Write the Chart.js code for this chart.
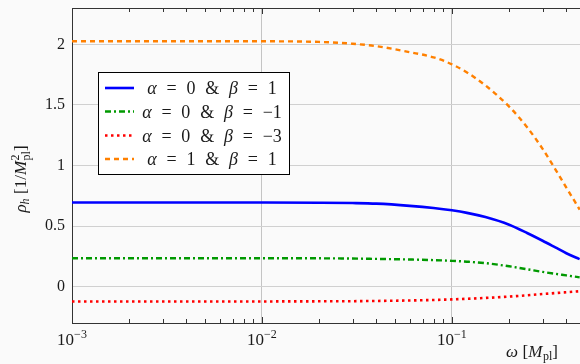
<!DOCTYPE html>
<html><head><meta charset="utf-8">
<script src="https://cdn.jsdelivr.net/npm/chart.js@4"></script>
<style>html,body{margin:0;padding:0;background:#fafafa;overflow:hidden}#wrap{width:580px;height:364px}</style>
</head><body><div id="wrap"><canvas id="c" width="580" height="364"></canvas></div>
<script>
// ---- data ----
const omega      = [0.001, 0.002, 0.005, 0.01, 0.02, 0.03, 0.04, 0.06, 0.08, 0.1, 0.12, 0.15, 0.2, 0.25, 0.3, 0.35, 0.4, 0.47];
const rhoA0B1    = [0.695, 0.695, 0.695, 0.695, 0.693, 0.69, 0.685, 0.667, 0.649, 0.63, 0.609, 0.574, 0.511, 0.441, 0.379, 0.324, 0.276, 0.227];
const rhoA0Bm1   = [0.235, 0.235, 0.235, 0.235, 0.234, 0.232, 0.229, 0.224, 0.219, 0.213, 0.206, 0.194, 0.168, 0.143, 0.122, 0.106, 0.093, 0.077];
const rhoA0Bm3   = [-0.122, -0.122, -0.122, -0.122, -0.121, -0.12, -0.118, -0.114, -0.11, -0.105, -0.10, -0.093, -0.082, -0.071, -0.061, -0.053, -0.046, -0.038];
const rhoA1B1    = [2.025, 2.025, 2.025, 2.025, 2.02, 2.005, 1.985, 1.935, 1.893, 1.835, 1.768, 1.661, 1.486, 1.311, 1.137, 0.969, 0.818, 0.636];
const xMajorTicks = [0.001, 0.01, 0.1];
const xTickExp    = ['\u22123', '\u22122', '\u22121'];
const yTicks      = [0, 0.5, 1, 1.5, 2];
const seriesNames = ['\u03b1 = 0 & \u03b2 = 1', '\u03b1 = 0 & \u03b2 = \u22121', '\u03b1 = 0 & \u03b2 = \u22123', '\u03b1 = 1 & \u03b2 = 1'];

const SERIF = '"Liberation Serif", "DejaVu Serif", serif';
const colors = ['#0000ff', '#009900', '#ff0000', '#ff8000'];
const dashes = [[], [6, 3, 2, 3], [2.5, 3.5], [5, 4]];
const widths = [2.6, 2.4, 2.6, 2.4];
const series = [rhoA0B1, rhoA0Bm1, rhoA0Bm3, rhoA1B1];

const datasets = series.map((s, i) => ({
  label: seriesNames[i],
  data: omega.map((w, k) => ({x: w, y: s[k]})),
  borderColor: colors[i], borderWidth: widths[i], borderDash: dashes[i],
  pointRadius: 0, fill: false, cubicInterpolationMode: 'monotone', borderCapStyle: 'butt'
}));

// draw a sequence of pieces: [text, italic, sizeScale, dy, extraAdvance]
function drawPieces(ctx, pieces, x, y, size, align){
  let total = 0;
  const ws = pieces.map(p => {
    ctx.font = (p[1] ? 'italic ' : '') + Math.round(size * (p[2] || 1)) + 'px ' + SERIF;
    const w = ctx.measureText(p[0]).width + (p[4] || 0);
    total += w; return w;
  });
  let cx = align === 'center' ? x - total / 2 : (align === 'right' ? x - total : x);
  pieces.forEach((p, i) => {
    ctx.font = (p[1] ? 'italic ' : '') + Math.round(size * (p[2] || 1)) + 'px ' + SERIF;
    ctx.textAlign = 'left'; ctx.textBaseline = 'alphabetic';
    ctx.fillText(p[0], cx, y + (p[3] || 0));
    cx += ws[i];
  });
}

function legendPieces(name){
  const toks = name.split(' ');
  return toks.map((t, i) => [t, (t === '\u03b1' || t === '\u03b2'), 1, 0, i < toks.length - 1 ? 9.8 : 0]);
}

const decor = {
  id: 'decor',
  afterDraw(chart){
    const ctx = chart.ctx, xs = chart.scales.x, a = chart.chartArea;
    ctx.save();
    ctx.fillStyle = '#1a1a1a'; ctx.strokeStyle = '#333'; ctx.lineWidth = 1;
    for (let d = -3; d <= -1; d++) {
      for (let m = 1; m <= 9; m++) {
        const v = m * Math.pow(10, d);
        if (v < xs.min || v > xs.max) continue;
        const px = Math.round(xs.getPixelForValue(v)) + 0.5;
        const len = m === 1 ? 6 : 4;
        ctx.beginPath();
        ctx.moveTo(px, a.bottom); ctx.lineTo(px, a.bottom - len);
        ctx.moveTo(px, a.top); ctx.lineTo(px, a.top + len);
        ctx.stroke();
      }
    }
    xMajorTicks.forEach((v, i) => {
      const px = xs.getPixelForValue(v);
      drawPieces(ctx, [['10', false, 1, 0], [xTickExp[i], false, 0.7, -7]], px, 345, 16.5, 'center');
    });
    drawPieces(ctx, [['\u03c9', true, 1, 0, 4.5], ['[', false, 1, 0], ['M', true, 1, 0, 0.5], ['pl', false, 0.72, 3], [']', false, 1, 0]], 532, 357, 17, 'center');
    ctx.save();
    ctx.translate(26, 179);
    ctx.rotate(-Math.PI / 2);
    drawPieces(ctx, [['\u03c1', true, 1, 0], ['h', true, 0.72, 3, 4.5], ['[1/', false, 1, 0], ['M', true, 1, 0, 0.5], ['2', false, 0.72, -7, -6], ['pl', false, 0.72, 4], [']', false, 1, 0]], 0, 0, 17, 'center');
    ctx.restore();
    // legend
    const lx = 98.5, ly = 72.5, lw = 191, lh = 102;
    ctx.fillStyle = '#ffffff';
    ctx.fillRect(lx, ly, lw, lh);
    ctx.strokeStyle = '#000'; ctx.lineWidth = 1;
    ctx.strokeRect(lx, ly, lw, lh);
    const rows = [88, 111.5, 135.5, 159];
    seriesNames.forEach((n, i) => {
      ctx.save();
      ctx.strokeStyle = colors[i]; ctx.lineWidth = widths[i]; ctx.setLineDash(dashes[i]);
      ctx.beginPath(); ctx.moveTo(105, rows[i]); ctx.lineTo(134, rows[i]); ctx.stroke();
      ctx.restore();
      ctx.fillStyle = '#1a1a1a';
      drawPieces(ctx, legendPieces(n), 212, rows[i] + 6, 18, 'center');
    });
    ctx.restore();
  }
};

const bg = {
  id: 'bg',
  beforeDraw(chart){ const c = chart.ctx; c.save(); c.fillStyle = '#fafafa'; c.fillRect(0, 0, chart.width, chart.height); c.restore(); }
};

new Chart(document.getElementById('c'), {
  type: 'line',
  data: { datasets },
  options: {
    responsive: false, animation: false, devicePixelRatio: 1,
    layout: { padding: 0 },
    plugins: { legend: { display: false }, tooltip: { enabled: false } },
    scales: {
      x: {
        type: 'logarithmic', position: 'bottom', min: 0.001, max: 0.472,
        afterBuildTicks: s => { s.ticks = xMajorTicks.map(v => ({ value: v })); },
        afterFit: s => { s.height = 41; s.paddingLeft = 0; s.paddingRight = 0; },
        ticks: { display: false },
        grid: { color: '#c4c4c4', lineWidth: 1, drawTicks: false },
        border: { color: '#333', width: 1 }
      },
      x2: {
        type: 'logarithmic', position: 'top', min: 0.001, max: 0.472, display: true,
        afterBuildTicks: s => { s.ticks = xMajorTicks.map(v => ({ value: v })); },
        afterFit: s => { s.height = 8; s.paddingLeft = 0; s.paddingRight = 0; },
        ticks: { display: false },
        grid: { display: false, drawTicks: false },
        border: { color: '#333', width: 1 }
      },
      y: {
        type: 'linear', min: -0.3, max: 2.3,
        afterBuildTicks: s => { s.ticks = yTicks.map(v => ({ value: v })); },
        afterFit: s => { s.width = 72; s.paddingTop = 0; s.paddingBottom = 0; },
        ticks: { font: { family: SERIF, size: 16 }, color: '#1a1a1a', padding: 7, callback: v => String(v) },
        grid: { color: '#d0d0d0', lineWidth: 1, drawTicks: false },
        border: { color: '#333', width: 1 }
      }
    }
  },
  plugins: [bg, decor]
});
</script>
</body></html>
